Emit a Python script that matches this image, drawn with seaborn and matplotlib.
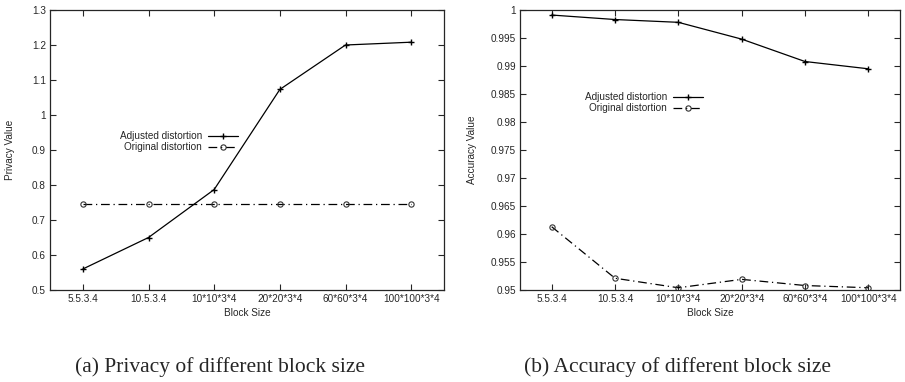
import numpy as np
import pandas as pd
import matplotlib
matplotlib.use('Agg')
import matplotlib.pyplot as plt
import seaborn as sns

block_sizes = ['5.5.3.4', '10.5.3.4', '10*10*3*4', '20*20*3*4', '60*60*3*4', '100*100*3*4']
privacy_adjusted = [0.560, 0.650, 0.787, 1.073, 1.200, 1.208]
privacy_original = [0.745, 0.745, 0.745, 0.745, 0.745, 0.745]
accuracy_adjusted = [0.9991, 0.9983, 0.9978, 0.9948, 0.9908, 0.9895]
accuracy_original = [0.9613, 0.9521, 0.9504, 0.9519, 0.9508, 0.9504]
series_names = ['Adjusted distortion', 'Original distortion']

sns.set_style('ticks')
plt.rcParams['font.family'] = ['Liberation Sans', 'DejaVu Sans']
plt.rcParams['xtick.direction'] = 'in'
plt.rcParams['ytick.direction'] = 'in'

FS = 7.2

fig = plt.figure(figsize=(9.05, 3.82), dpi=100)
ax1 = fig.add_axes([50 / 905, 92 / 382, 394 / 905, 280 / 382])
ax2 = fig.add_axes([520 / 905, 92 / 382, 380 / 905, 280 / 382])


def draw(ax, adj, orig, ylim, yticks, ylabel, ytick_fmt, leg_anchor, lpad):
    x = np.arange(len(block_sizes))
    sns.lineplot(x=x, y=adj, ax=ax, color='black', lw=0.9, label=series_names[0],
                 marker='+', markersize=4.5, markeredgewidth=1, markeredgecolor='black')
    sns.lineplot(x=x, y=orig, ax=ax, color='black', lw=0.9, label=series_names[1],
                 linestyle=(0, (7, 3, 1, 3)), marker='o', markersize=3.8,
                 markerfacecolor='none', markeredgewidth=0.8, markeredgecolor='#333333')
    ax.set_xlim(-0.5, len(block_sizes) - 0.5)
    ax.set_ylim(*ylim)
    ax.set_xticks(range(len(block_sizes)))
    ax.set_xticklabels(block_sizes)
    ax.set_yticks(yticks)
    ax.set_yticklabels([ytick_fmt(v) for v in yticks])
    ax.tick_params(axis='both', labelsize=FS, length=4, width=0.8,
                   top=True, right=True, pad=3)
    for s in ax.spines.values():
        s.set_linewidth(0.9)
    ax.set_xlabel('Block Size', fontsize=FS, labelpad=3)
    ax.set_ylabel(ylabel, fontsize=FS, labelpad=lpad)
    handles, labels = ax.get_legend_handles_labels()
    ax.legend(handles, labels, loc='upper right', bbox_to_anchor=leg_anchor,
              frameon=False, markerfirst=False, fontsize=FS, handlelength=3.0,
              handletextpad=0.6, labelspacing=0.1, borderpad=0)


def fmt_priv(v):
    return '1' if abs(v - 1) < 1e-9 else '%.1f' % v


def fmt_acc(v):
    return ('%.3f' % v).rstrip('0').rstrip('.')


draw(ax1, privacy_adjusted, privacy_original, (0.5, 1.3),
     np.round(np.arange(0.5, 1.31, 0.1), 2), 'Privacy Value', fmt_priv, (0.49, 0.585), 12)
draw(ax2, accuracy_adjusted, accuracy_original, (0.95, 1.0),
     np.round(np.arange(0.95, 1.0001, 0.005), 3), 'Accuracy Value', fmt_acc, (0.495, 0.725), 10)

fig.text(220 / 905, 1 - 372 / 382, '(a) Privacy of different block size',
         ha='center', va='baseline', fontsize=15.5, family='Liberation Serif')
fig.text(677 / 905, 1 - 372 / 382, '(b) Accuracy of different block size',
         ha='center', va='baseline', fontsize=15.5, family='Liberation Serif')

fig.savefig('out.png', dpi=100)
